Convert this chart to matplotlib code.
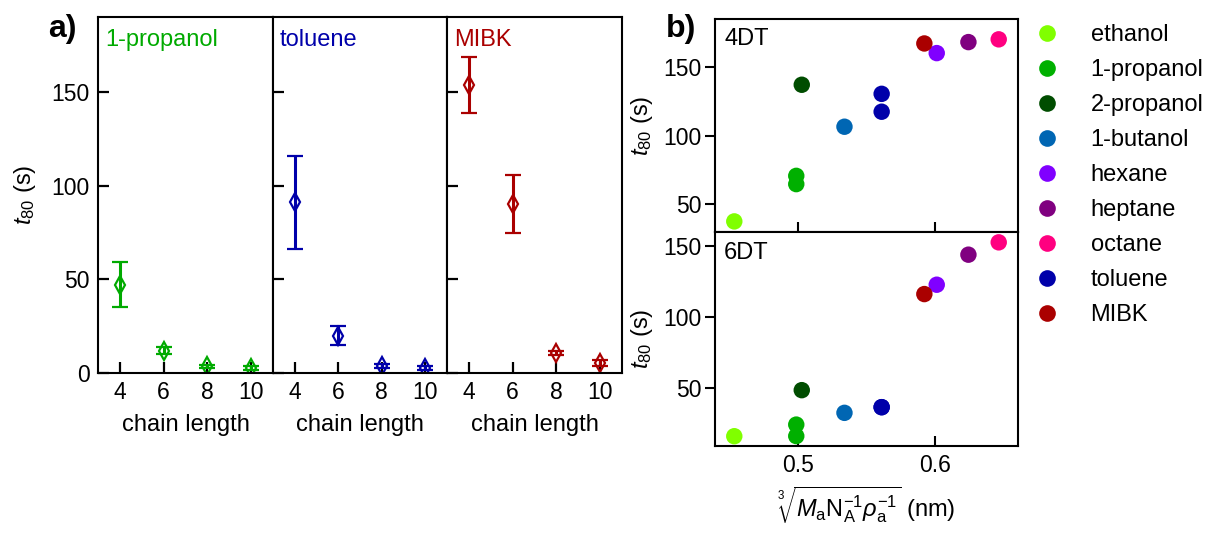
import numpy as np
import matplotlib
matplotlib.use('Agg')
import matplotlib.pyplot as plt
from matplotlib.lines import Line2D

plt.rcParams['font.family'] = ['Liberation Sans', 'DejaVu Sans']
plt.rcParams['mathtext.fontset'] = 'custom'
plt.rcParams['mathtext.rm'] = 'Liberation Sans'
plt.rcParams['mathtext.it'] = 'Liberation Sans:italic'
plt.rcParams['font.size'] = 17
plt.rcParams['xtick.labelsize'] = 16.5
plt.rcParams['ytick.labelsize'] = 16.5

# panel a: t80 vs chain length for three solvents
chain = [4, 6, 8, 10]
solv_a = ['1-propanol', 'toluene', 'MIBK']
col_a = ['#00AA00', '#0000AA', '#AA0000']
t80_a = [[47, 12, 3.5, 2.5],
         [91, 20, 3.7, 2.5],
         [153.5, 90, 10.8, 5.5]]
err_a = [[12, 2, 1, 1],
         [25, 5, 1, 1],
         [15, 15.5, 1, 1.5]]

# panel b: t80 vs molecular size, 4DT and 6DT
solvents = ['ethanol', '1-propanol', '1-propanol', '2-propanol', '1-butanol',
            'hexane', 'heptane', 'octane', 'toluene', 'toluene', 'MIBK']
size_nm = [0.454, 0.499, 0.499, 0.503, 0.534, 0.601, 0.624, 0.646,
           0.561, 0.561, 0.592]
t80_4dt = [37.7, 70.8, 64.8, 137, 106.5, 160, 168, 170, 130.4, 117.4, 167]
t80_6dt = [15.9, 24.1, 16, 48.4, 32.4, 122.8, 144, 152.7, 36.4, 36.4, 116.2]

legend_names = ['ethanol', '1-propanol', '2-propanol', '1-butanol', 'hexane',
                'heptane', 'octane', 'toluene', 'MIBK']
colors = {'ethanol': '#80FF00', '1-propanol': '#00B000', '2-propanol': '#004D00',
          '1-butanol': '#0066B3', 'hexane': '#8000FF', 'heptane': '#800080',
          'octane': '#FF0080', 'toluene': '#0000AA', 'MIBK': '#AA0000'}

W, H = 1209, 555
fig = plt.figure(figsize=(W / 100, H / 100), dpi=100)


def box(x0, y0, x1, y1):
    return [x0 / W, 1 - y1 / H, (x1 - x0) / W, (y1 - y0) / H]


# ---- panel a ----
edges = [98, 273, 447, 622]
for i in range(3):
    ax = fig.add_axes(box(edges[i], 17, edges[i + 1], 373))
    ax.errorbar(chain, t80_a[i], yerr=err_a[i], fmt='d', color=col_a[i],
                mfc='none', mec=col_a[i], ms=9, mew=1.6, elinewidth=2.2,
                capsize=6, capthick=2.2)
    ax.set_xlim(3, 11)
    ax.set_ylim(0, 190)
    ax.set_xticks(chain)
    ax.set_yticks([0, 50, 100, 150])
    ax.tick_params(direction='in', length=8, width=1.6, pad=6)
    if i > 0:
        ax.set_yticklabels([])
    else:
        ax.set_ylabel(r'$t_{80}$ (s)', labelpad=10)
    ax.set_xlabel('chain length', labelpad=7)
    ax.text(0.04, 0.965, solv_a[i], color=col_a[i], transform=ax.transAxes,
            ha='left', va='top', fontsize=17)
    for s in ax.spines.values():
        s.set_linewidth(1.5)

fig.text(48 / W, 1 - 29 / H, 'a)', fontsize=23, fontweight='bold', va='center')
fig.text(666 / W, 1 - 29 / H, 'b)', fontsize=23, fontweight='bold', va='center')

# ---- panel b ----
ax_top = fig.add_axes(box(715, 18.7, 1018, 232))
ax_bot = fig.add_axes(box(715, 232, 1018, 446))
for ax, vals, ylim, tag in [(ax_top, t80_4dt, (30, 185), '4DT'),
                            (ax_bot, t80_6dt, (9, 160), '6DT')]:
    for x, y, s in zip(size_nm, vals, solvents):
        ax.scatter(x, y, s=140, color=colors[s], edgecolors='none', zorder=3)
    ax.set_xlim(0.44, 0.66)
    ax.set_ylim(*ylim)
    ax.set_xticks([0.5, 0.6])
    ax.set_yticks([50, 100, 150])
    ax.tick_params(axis='x', direction='in', length=7, width=1.5, pad=6)
    ax.tick_params(axis='y', direction='out', length=7, width=1.5, pad=3)
    ax.set_ylabel(r'$t_{80}$ (s)', labelpad=6)
    ax.text(0.03, 0.955, tag, transform=ax.transAxes, ha='left', va='top',
            fontsize=17)
    for s in ax.spines.values():
        s.set_linewidth(1.5)
ax_top.set_xticklabels([])
ax_bot.set_xlabel(r'$\sqrt[3]{M_\mathrm{a}\mathrm{N}_\mathrm{A}^{-1}\rho_\mathrm{a}^{-1}}$ (nm)',
                  labelpad=5)

handles = [Line2D([], [], marker='o', ls='none', ms=12, mfc=colors[n],
                  mec='none') for n in legend_names]
fig.legend(handles, legend_names, loc='upper left',
           bbox_to_anchor=(1002 / W, 1 - 3 / H), frameon=False,
           handletextpad=0.85, labelspacing=0.55, fontsize=17)

fig.savefig('out.png', dpi=100)
